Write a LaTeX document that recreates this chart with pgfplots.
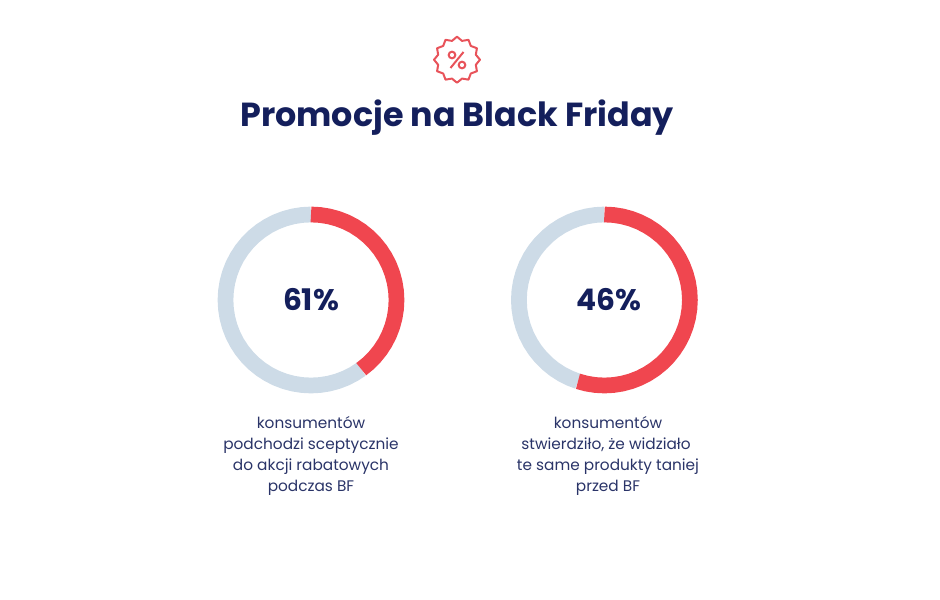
\documentclass[border=0pt]{standalone}
\usepackage{pgfplots}
\pgfplotsset{compat=1.18}
\usepackage{fontspec}
\setmainfont{Poppins}
\definecolor{navy}{HTML}{141F5C}
\definecolor{bodytxt}{HTML}{2A3468}
\definecolor{ringred}{HTML}{F0464F}
\definecolor{ringgray}{HTML}{CDDBE7}
\definecolor{iconred}{HTML}{E8535A}
\tikzset{captxt/.style={text=bodytxt,font=\fontsize{11.5pt}{15pt}\selectfont,inner sep=0pt,anchor=base}}
\pgfplotsset{
  donut/.style={width=150pt,height=150pt,scale only axis,hide axis,
    xmin=-100,xmax=100,ymin=-100,ymax=100,anchor=center,clip=false},
  ring/.style={data cs=polar,no markers,line width=11.8pt,line join=round}
}
\begin{document}
\begin{tikzpicture}
\path[use as bounding box] (0pt,0pt) rectangle (705pt,450pt);
\begin{axis}[width=705pt,height=450pt,scale only axis,hide axis,
  xmin=0,xmax=940,ymin=0,ymax=600,y dir=reverse,clip=false,at={(0pt,0pt)},anchor=south west]
\addplot[iconred,line width=1.5pt,no markers] coordinates {(450.5,68) (463.5,52)};
\addplot[only marks,mark=o,mark size=2.5pt,iconred,mark options={line width=1.5pt,fill=none}] coordinates {(452,55) (462,65)};
\node[text=navy,anchor=base,inner sep=0pt,font=\fontsize{25pt}{30pt}\selectfont\bfseries] at (axis cs:457,126.5) {Promocje na Black Friday};
\node[text=navy,font=\fontsize{22.3pt}{26pt}\selectfont\bfseries] at (axis cs:311,300) {61\%};
\node[text=navy,font=\fontsize{22.3pt}{26pt}\selectfont\bfseries] at (axis cs:608.5,300) {46\%};
\node[captxt] at (axis cs:311,428.5) {konsumentów};
\node[captxt] at (axis cs:311,449.5) {podchodzi sceptycznie};
\node[captxt] at (axis cs:311,470.5) {do akcji rabatowych};
\node[captxt] at (axis cs:311,491.5) {podczas BF};
\node[captxt] at (axis cs:608,428.5) {konsumentów};
\node[captxt] at (axis cs:606,449.5) {stwierdziło, że widziało};
\node[captxt] at (axis cs:608,470.5) {te same produkty taniej};
\node[captxt] at (axis cs:608,491.5) {przed BF};
\end{axis}
% icon outline
\begin{axis}[donut,width=37.5pt,height=37.5pt,xmin=-25,xmax=25,ymin=-25,ymax=25,at={(342.75pt,405.2pt)}]
\addplot[data cs=polar,no markers,iconred,line width=1.5pt,line join=round] coordinates {
(90,23)(75,19.5)(60,23)(45,19.5)(30,23)(15,19.5)(0,23)(-15,19.5)(-30,23)(-45,19.5)(-60,23)(-75,19.5)
(-90,23)(-105,19.5)(-120,23)(-135,19.5)(-150,23)(-165,19.5)(-180,23)(-195,19.5)(-210,23)(-225,19.5)(-240,23)(-255,19.5)(-270,23)} -- cycle;
\end{axis}
% left donut
\begin{axis}[donut,at={(233.25pt,225pt)}]
\addplot[ring,ringgray] coordinates {
(-54,85.5)(-60,85.5)(-66,85.5)(-72,85.5)(-78,85.5)(-84,85.5)(-90,85.5)(-96,85.5)(-102,85.5)(-108,85.5)
(-114,85.5)(-120,85.5)(-126,85.5)(-132,85.5)(-138,85.5)(-144,85.5)(-150,85.5)(-156,85.5)(-162,85.5)(-168,85.5)
(-174,85.5)(-180,85.5)(-186,85.5)(-192,85.5)(-198,85.5)(-204,85.5)(-210,85.5)(-216,85.5)(-222,85.5)(-228,85.5)
(-234,85.5)(-240,85.5)(-246,85.5)(-252,85.5)(-258,85.5)(-264,85.5)(-270,85.5)};
\addplot[ring,ringred] coordinates {
(90,85.5)(84,85.5)(78,85.5)(72,85.5)(66,85.5)(60,85.5)(54,85.5)(48,85.5)(42,85.5)(36,85.5)(30,85.5)(24,85.5)(18,85.5)
(12,85.5)(6,85.5)(0,85.5)(-6,85.5)(-12,85.5)(-18,85.5)(-24,85.5)(-30,85.5)(-36,85.5)(-42,85.5)(-48,85.5)(-54,85.5)};
\end{axis}
% right donut
\begin{axis}[donut,at={(453.3pt,225pt)}]
\addplot[ring,ringgray] coordinates {
(-108,85.5)(-114,85.5)(-120,85.5)(-126,85.5)(-132,85.5)(-138,85.5)(-144,85.5)(-150,85.5)(-156,85.5)(-162,85.5)(-168,85.5)
(-174,85.5)(-180,85.5)(-186,85.5)(-192,85.5)(-198,85.5)(-204,85.5)(-210,85.5)(-216,85.5)(-222,85.5)(-228,85.5)
(-234,85.5)(-240,85.5)(-246,85.5)(-252,85.5)(-258,85.5)(-264,85.5)(-270,85.5)};
\addplot[ring,ringred] coordinates {
(90,85.5)(84,85.5)(78,85.5)(72,85.5)(66,85.5)(60,85.5)(54,85.5)(48,85.5)(42,85.5)(36,85.5)(30,85.5)(24,85.5)(18,85.5)
(12,85.5)(6,85.5)(0,85.5)(-6,85.5)(-12,85.5)(-18,85.5)(-24,85.5)(-30,85.5)(-36,85.5)(-42,85.5)(-48,85.5)(-54,85.5)
(-60,85.5)(-66,85.5)(-72,85.5)(-78,85.5)(-84,85.5)(-90,85.5)(-96,85.5)(-102,85.5)(-108,85.5)};
\end{axis}
\end{tikzpicture}
\end{document}
